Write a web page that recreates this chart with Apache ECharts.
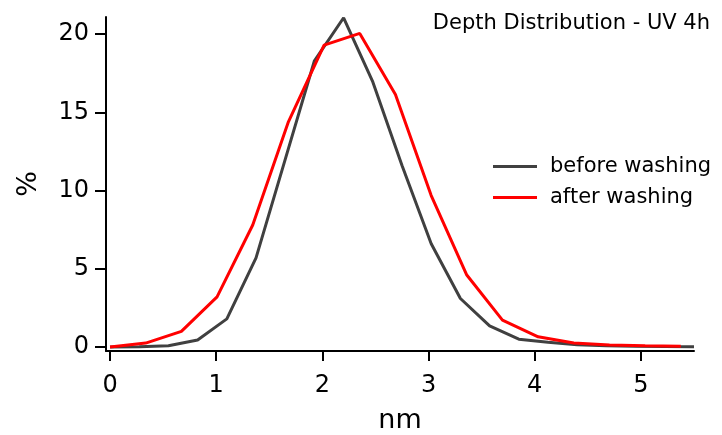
<!DOCTYPE html>
<html>
<head>
<meta charset="utf-8">
<script src="https://cdn.jsdelivr.net/npm/echarts@6/dist/echarts.min.js"></script>
<style>
  html, body { margin: 0; padding: 0; background: #fff; }
  #main { width: 722px; height: 435px; }
</style>
</head>
<body>
<div id="main"></div>
<script>
  // depth (nm) and share (%)
  var beforeX = [0, 0.275, 0.55, 0.825, 1.1, 1.375, 1.65, 1.925, 2.2, 2.475, 2.75, 3.025, 3.3, 3.575, 3.85, 4.125, 4.4, 4.675, 4.95, 5.225, 5.5]
  var beforeY = [0, 0.02, 0.08, 0.45, 1.8, 5.7, 12.0, 18.3, 21.05, 16.95, 11.6, 6.6, 3.1, 1.35, 0.5, 0.3, 0.15, 0.08, 0.05, 0.03, 0.02]
  var afterX = [0, 0.336, 0.672, 1.008, 1.344, 1.68, 2.016, 2.352, 2.688, 3.024, 3.36, 3.696, 4.032, 4.368, 4.704, 5.04, 5.376]
  var afterY = [0, 0.25, 1.0, 3.2, 7.8, 14.4, 19.3, 20.05, 16.15, 9.7, 4.6, 1.72, 0.65, 0.25, 0.12, 0.08, 0.05]
  var xTicks = [0, 1, 2, 3, 4, 5]
  var yTicks = [0, 5, 10, 15, 20]

  function pairs(xs, ys) {
    return xs.map(function (x, i) { return [x, ys[i]] })
  }

  var font = 'DejaVu Sans'
  var myChart = echarts.init(document.getElementById('main'))
  // axes sit a little outside the data (Igor style), so the ranges start just below 0
  var option = {
    backgroundColor: '#fff',
    animation: false,
    title: {
      text: 'Depth Distribution - UV 4h',
      right: 12,
      top: 13,
      padding: 0,
      textStyle: { fontFamily: font, fontSize: 21, fontWeight: 'normal', color: '#000' }
    },
    legend: {
      orient: 'vertical',
      left: 493,
      top: 156,
      icon: 'rect',
      itemWidth: 44,
      itemHeight: 3,
      itemGap: 10,
      padding: 0,
      textStyle: { fontFamily: font, fontSize: 21, color: '#000', padding: [0, 0, 0, 8] },
      data: ['before washing', 'after washing']
    },
    grid: { left: 106, right: 28, top: 17, bottom: 84, outerBoundsMode: 'none' },
    xAxis: {
      type: 'value',
      min: -0.038,
      max: 5.5,
      name: 'nm',
      nameLocation: 'middle',
      nameGap: 56,
      nameTextStyle: { fontFamily: font, fontSize: 27, color: '#000' },
      axisLine: { show: true, onZero: false, lineStyle: { color: '#000', width: 2 } },
      axisTick: { show: true, length: 10, lineStyle: { color: '#000', width: 2 }, customValues: xTicks },
      axisLabel: { fontFamily: font, fontSize: 24, color: '#000', margin: 23, customValues: xTicks },
      splitLine: { show: false }
    },
    yAxis: {
      type: 'value',
      min: -0.256,
      max: 21.1,
      name: '%',
      nameLocation: 'middle',
      nameGap: 64,
      nameTextStyle: { fontFamily: font, fontSize: 27, color: '#000' },
      axisLine: { show: true, onZero: false, lineStyle: { color: '#000', width: 2 } },
      axisTick: { show: true, length: 11, lineStyle: { color: '#000', width: 2 }, customValues: yTicks },
      axisLabel: { fontFamily: font, fontSize: 24, color: '#000', margin: 17, customValues: yTicks },
      splitLine: { show: false }
    },
    series: [
      {
        name: 'before washing',
        type: 'line',
        symbol: 'none',
        data: pairs(beforeX, beforeY),
        lineStyle: { color: '#404040', width: 3 },
        itemStyle: { color: '#404040' }
      },
      {
        name: 'after washing',
        type: 'line',
        symbol: 'none',
        data: pairs(afterX, afterY),
        lineStyle: { color: '#ff0000', width: 3 },
        itemStyle: { color: '#ff0000' }
      }
    ]
  }
  myChart.setOption(option)
</script>
</body>
</html>
